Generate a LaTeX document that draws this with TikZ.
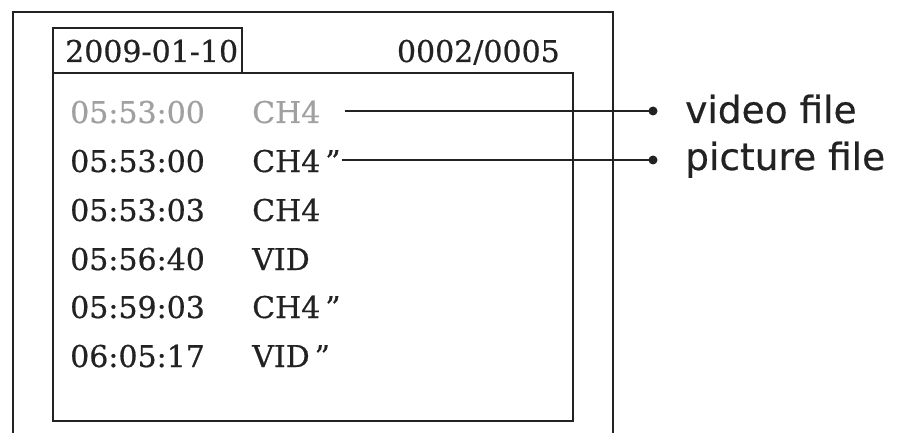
\documentclass[tikz,border=0pt]{standalone}
\usepackage{fontspec}
\setmainfont{DejaVu Serif}[FakeBold=0.6]
\newfontfamily\labelfont{DejaVu Sans}[FakeBold=0.5]
\definecolor{fadegray}{HTML}{A0A0A0}
\definecolor{ink}{HTML}{222222}
\begin{document}
\begin{tikzpicture}[x=1pt,y=-1pt,
  frame/.style={draw=ink,line width=1.9pt},
  cell/.style={inner sep=0pt,anchor=base west,text=ink,font=\fontsize{30}{36}\selectfont},
  faded/.style={text=fadegray},
  lbl/.style={inner sep=0pt,anchor=base west,text=ink,font=\labelfont\fontsize{37.5}{44}\selectfont},
  dotnode/.style={circle,fill=ink,inner sep=0pt,minimum size=9pt},
  conn/.style={draw=ink,line width=1.5pt}]
\useasboundingbox (0,0) rectangle (897,433);
% outer frame (bottom cut off)
\draw[frame] (13,440) -- (13,12) -- (613,12) -- (613,440);
% date box and list box
\draw[frame] (53,28) rectangle (242,73);
\draw[frame] (53,73) rectangle (573,421);
\node[cell] (date) at (65,62) {2009-01-10};
\node[cell,anchor=base east] (count) at (560,62) {0002/0005};
% rows
\node[cell,faded] (t1) at (70,123) {05:53:00};
\node[cell,faded] (c1) at (252,123) {CH4};
\node[cell] (t2) at (70,172) {05:53:00};
\node[cell] (c2) at (252,172) {CH4\,”};
\node[cell] (t3) at (70,221) {05:53:03};
\node[cell] (c3) at (252,221) {CH4};
\node[cell] (t4) at (70,270) {05:56:40};
\node[cell] (c4) at (252,270) {VID};
\node[cell] (t5) at (70,318) {05:59:03};
\node[cell] (c5) at (252,318) {CH4\,”};
\node[cell] (t6) at (70,367) {06:05:17};
\node[cell] (c6) at (252,367) {VID\,”};
% legend
\node[dotnode] (d1) at (653,111) {};
\node[dotnode] (d2) at (653,160) {};
\node[lbl] (v) at (685,123) {video file};
\node[lbl] (p) at (685,170) {picture file};
\draw[conn,shorten <=24pt] (c1.east |- d1) -- (d1.center);
\draw[conn,shorten <=1pt] (c2.east |- d2) -- (d2.center);
\end{tikzpicture}
\end{document}
